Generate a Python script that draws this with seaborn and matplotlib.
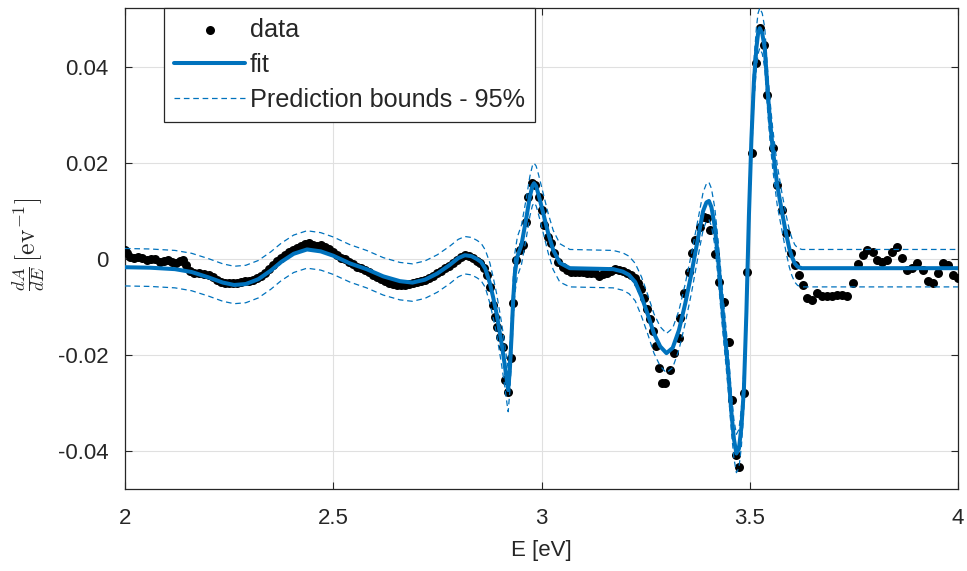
import numpy as np
import seaborn as sns
import matplotlib
matplotlib.use("Agg")
import matplotlib.pyplot as plt

# ------------------------------- DONNEES -------------------------------
E_data = [2.000, 2.005, 2.012, 2.022, 2.031, 2.041, 2.053, 2.062, 2.072, 2.084,
          2.094, 2.103, 2.113, 2.122, 2.132, 2.139, 2.146, 2.156, 2.166, 2.178,
          2.190, 2.202, 2.211, 2.221, 2.230, 2.240, 2.250, 2.259, 2.269, 2.279,
          2.288, 2.298, 2.307, 2.317, 2.327, 2.336, 2.346, 2.355, 2.365, 2.375,
          2.384, 2.394, 2.403, 2.413, 2.423, 2.432, 2.442, 2.451, 2.461, 2.471,
          2.480, 2.490, 2.499, 2.509, 2.519, 2.528, 2.538, 2.547, 2.557, 2.567,
          2.576, 2.586, 2.595, 2.605, 2.615, 2.624, 2.634, 2.643, 2.653, 2.663,
          2.672, 2.682, 2.691, 2.701, 2.711, 2.720, 2.730, 2.739, 2.749, 2.759,
          2.768, 2.778, 2.788, 2.797, 2.807, 2.816, 2.826, 2.836, 2.845, 2.852,
          2.861, 2.869, 2.876, 2.884, 2.888, 2.893, 2.900, 2.908, 2.912, 2.920,
          2.927, 2.932, 2.939, 2.948, 2.956, 2.963, 2.968, 2.977, 2.985, 2.994,
          3.001, 3.006, 3.016, 3.023, 3.030, 3.040, 3.052, 3.061, 3.071, 3.080,
          3.090, 3.100, 3.109, 3.119, 3.128, 3.138, 3.148, 3.157, 3.167, 3.176,
          3.186, 3.196, 3.205, 3.215, 3.225, 3.232, 3.239, 3.246, 3.253, 3.261,
          3.268, 3.275, 3.283, 3.289, 3.297, 3.309, 3.317, 3.329, 3.333, 3.341,
          3.353, 3.361, 3.369, 3.381, 3.389, 3.397, 3.405, 3.417, 3.425, 3.437,
          3.449, 3.457, 3.466, 3.475, 3.486, 3.494, 3.505, 3.515, 3.525, 3.535,
          3.541, 3.555, 3.565, 3.577, 3.587, 3.598, 3.609, 3.619, 3.629, 3.638,
          3.649, 3.661, 3.673, 3.685, 3.697, 3.709, 3.721, 3.734, 3.749, 3.761,
          3.771, 3.782, 3.795, 3.805, 3.817, 3.829, 3.841, 3.853, 3.865, 3.877,
          3.889, 3.902, 3.915, 3.927, 3.939, 3.951, 3.963, 3.977, 3.989, 3.999]

dAdE_data = [0.0019, 0.0012, 0.0004, 0.0002, 0.0005, 0.0003, -0.0002, 0.0001, 0.0001, -0.0006,
             -0.0005, -0.0002, -0.0006, -0.0008, -0.0004, -0.0002, -0.0013, -0.0025, -0.0028, -0.0029,
             -0.0031, -0.0033, -0.0037, -0.0044, -0.0048, -0.0050, -0.0050, -0.0050, -0.0049, -0.0048,
             -0.0046, -0.0045, -0.0044, -0.0039, -0.0035, -0.0028, -0.0020, -0.0013, -0.0004, 0.0003,
             0.0009, 0.0014, 0.0018, 0.0023, 0.0027, 0.0031, 0.0033, 0.0030, 0.0027, 0.0029,
             0.0026, 0.0020, 0.0015, 0.0008, 0.0003, 0.0000, -0.0006, -0.0011, -0.0016, -0.0019,
             -0.0022, -0.0026, -0.0033, -0.0037, -0.0041, -0.0046, -0.0050, -0.0052, -0.0054, -0.0054,
             -0.0053, -0.0052, -0.0049, -0.0048, -0.0046, -0.0043, -0.0040, -0.0035, -0.0029, -0.0024,
             -0.0019, -0.0014, -0.0008, -0.0002, 0.0004, 0.0008, 0.0007, 0.0003, -0.0003, -0.0008,
             -0.0018, -0.0033, -0.0058, -0.0096, -0.0120, -0.0142, -0.0162, -0.0183, -0.0252, -0.0277,
             -0.0206, -0.0092, -0.0002, 0.0019, 0.0029, 0.0077, 0.0129, 0.0158, 0.0154, 0.0129,
             0.0102, 0.0071, 0.0046, 0.0033, 0.0012, -0.0006, -0.0017, -0.0022, -0.0026, -0.0027,
             -0.0027, -0.0027, -0.0028, -0.0028, -0.0030, -0.0035, -0.0032, -0.0030, -0.0024, -0.0021,
             -0.0022, -0.0025, -0.0030, -0.0034, -0.0040, -0.0050, -0.0063, -0.0082, -0.0105, -0.0125,
             -0.0150, -0.0182, -0.0227, -0.0259, -0.0259, -0.0231, -0.0196, -0.0165, -0.0123, -0.0071,
             -0.0027, 0.0012, 0.0040, 0.0067, 0.0088, 0.0085, 0.0060, 0.0010, -0.0048, -0.0089,
             -0.0173, -0.0294, -0.0408, -0.0433, -0.0280, -0.0027, 0.0221, 0.0408, 0.0481, 0.0446,
             0.0342, 0.0231, 0.0154, 0.0102, 0.0054, 0.0012, -0.0013, -0.0033, -0.0054, -0.0081,
             -0.0085, -0.0071, -0.0077, -0.0077, -0.0077, -0.0075, -0.0075, -0.0077, -0.0050, -0.0010,
             0.0008, 0.0019, 0.0015, -0.0002, -0.0006, -0.0002, 0.0015, 0.0025, 0.0002, -0.0023,
             -0.0019, -0.0008, -0.0023, -0.0046, -0.0050, -0.0029, -0.0008, -0.0013, -0.0033, -0.0040]

E_fit = [2.000, 2.060, 2.120, 2.160, 2.200, 2.235, 2.262, 2.290, 2.320, 2.350,
         2.375, 2.405, 2.437, 2.470, 2.500, 2.540, 2.580, 2.620, 2.660, 2.690,
         2.720, 2.750, 2.780, 2.800, 2.816, 2.832, 2.845, 2.855, 2.865, 2.876,
         2.884, 2.892, 2.904, 2.912, 2.917, 2.920, 2.924, 2.928, 2.932, 2.936,
         2.942, 2.952, 2.964, 2.972, 2.978, 2.982, 2.987, 2.992, 3.004, 3.016,
         3.028, 3.044, 3.068, 3.120, 3.172, 3.195, 3.210, 3.225, 3.240, 3.255,
         3.270, 3.285, 3.300, 3.315, 3.330, 3.345, 3.360, 3.375, 3.388, 3.396,
         3.402, 3.408, 3.416, 3.424, 3.432, 3.440, 3.448, 3.456, 3.462, 3.468,
         3.474, 3.480, 3.486, 3.492, 3.498, 3.504, 3.510, 3.516, 3.520, 3.524,
         3.530, 3.536, 3.543, 3.549, 3.555, 3.566, 3.577, 3.587, 3.595, 3.601,
         3.608, 3.615, 3.625, 3.700, 3.800, 3.900, 4.000]

dAdE_fit = [-0.0017, -0.0018, -0.0021, -0.0027, -0.0038, -0.0049, -0.0054, -0.0052, -0.0042, -0.0024,
            -0.0006, 0.0011, 0.0020, 0.0016, 0.0007, -0.0009, -0.0021, -0.0036, -0.0046, -0.0049,
            -0.0043, -0.0030, -0.0012, 0.0002, 0.0008, 0.0006, 0.0000, -0.0006, -0.0020, -0.0050,
            -0.0080, -0.0113, -0.0175, -0.0222, -0.0255, -0.0273, -0.0230, -0.0162, -0.0085, -0.0030,
            0.0005, 0.0030, 0.0088, 0.0130, 0.0152, 0.0158, 0.0152, 0.0137, 0.0096, 0.0054,
            0.0019, -0.0008, -0.0019, -0.0020, -0.0021, -0.0026, -0.0033, -0.0048, -0.0078, -0.0115,
            -0.0155, -0.0182, -0.0196, -0.0185, -0.0148, -0.0093, -0.0030, 0.0040, 0.0100, 0.0118,
            0.0121, 0.0108, 0.0068, 0.0000, -0.0080, -0.0155, -0.0230, -0.0320, -0.0375, -0.0405,
            -0.0395, -0.0350, -0.0270, -0.0110, 0.0090, 0.0250, 0.0370, 0.0440, 0.0470, 0.0481,
            0.0470, 0.0440, 0.0350, 0.0285, 0.0231, 0.0154, 0.0100, 0.0054, 0.0022, 0.0005,
            -0.0009, -0.0016, -0.0019, -0.0019, -0.0019, -0.0019, -0.0019]

bound_up = [0.0022, 0.0021, 0.0018, 0.0012, 0.0001, -0.0010, -0.0015, -0.0013, -0.0003, 0.0015,
            0.0033, 0.0050, 0.0059, 0.0055, 0.0046, 0.0030, 0.0018, 0.0003, -0.0007, -0.0010,
            -0.0004, 0.0009, 0.0027, 0.0041, 0.0047, 0.0045, 0.0039, 0.0033, 0.0019, -0.0008,
            -0.0038, -0.0071, -0.0132, -0.0179, -0.0211, -0.0229, -0.0186, -0.0119, -0.0043, 0.0012,
            0.0046, 0.0071, 0.0129, 0.0172, 0.0194, 0.0200, 0.0194, 0.0179, 0.0137, 0.0095,
            0.0060, 0.0032, 0.0020, 0.0019, 0.0018, 0.0013, 0.0006, -0.0009, -0.0037, -0.0074,
            -0.0114, -0.0141, -0.0155, -0.0144, -0.0107, -0.0052, 0.0011, 0.0079, 0.0139, 0.0157,
            0.0160, 0.0147, 0.0107, 0.0039, -0.0040, -0.0115, -0.0190, -0.0280, -0.0335, -0.0365,
            -0.0355, -0.0310, -0.0230, -0.0070, 0.0132, 0.0292, 0.0412, 0.0482, 0.0512, 0.0523,
            0.0512, 0.0482, 0.0392, 0.0327, 0.0273, 0.0196, 0.0139, 0.0093, 0.0061, 0.0044,
            0.0030, 0.0023, 0.0020, 0.0020, 0.0020, 0.0020, 0.0020]

bound_low = [-0.0056, -0.0057, -0.0060, -0.0066, -0.0077, -0.0088, -0.0093, -0.0091, -0.0081, -0.0063,
             -0.0045, -0.0028, -0.0019, -0.0023, -0.0032, -0.0048, -0.0060, -0.0075, -0.0085, -0.0088,
             -0.0082, -0.0069, -0.0051, -0.0037, -0.0031, -0.0033, -0.0039, -0.0045, -0.0059, -0.0092,
             -0.0122, -0.0155, -0.0219, -0.0267, -0.0300, -0.0318, -0.0275, -0.0206, -0.0128, -0.0072,
             -0.0036, -0.0011, 0.0047, 0.0089, 0.0111, 0.0117, 0.0111, 0.0096, 0.0055, 0.0013,
             -0.0022, -0.0048, -0.0058, -0.0059, -0.0060, -0.0065, -0.0072, -0.0087, -0.0119, -0.0156,
             -0.0196, -0.0223, -0.0237, -0.0226, -0.0189, -0.0134, -0.0071, 0.0001, 0.0061, 0.0079,
             0.0082, 0.0069, 0.0029, -0.0039, -0.0120, -0.0195, -0.0270, -0.0360, -0.0415, -0.0445,
             -0.0435, -0.0390, -0.0310, -0.0150, 0.0048, 0.0208, 0.0328, 0.0398, 0.0428, 0.0439,
             0.0428, 0.0398, 0.0308, 0.0243, 0.0189, 0.0112, 0.0061, 0.0015, -0.0017, -0.0034,
             -0.0048, -0.0055, -0.0058, -0.0058, -0.0058, -0.0058, -0.0058]

x_ticks = [2, 2.5, 3, 3.5, 4]
x_ticklabels = ["2", "2.5", "3", "3.5", "4"]
y_ticks = [-0.04, -0.02, 0, 0.02, 0.04]
y_ticklabels = ["-0.04", "-0.02", "0", "0.02", "0.04"]

bleu = "#0072BD"
gris = "#262626"

# ------------------------------- AFFICHAGE -------------------------------
sns.set_style("ticks")
plt.rcParams['font.family'] = ['Liberation Sans', 'DejaVu Sans']
plt.rcParams['mathtext.fontset'] = 'cm'

fig = plt.figure(figsize=(9.67, 5.71), dpi=100)
ax = fig.add_axes([125/967, 82/571, 833/967, 481/571])

sns.scatterplot(x=E_data, y=dAdE_data, ax=ax, color="black", s=42, linewidth=0,
                label="data", zorder=3)
sns.lineplot(x=E_fit, y=dAdE_fit, ax=ax, color=bleu, linewidth=2.9, sort=False,
             estimator=None, label="fit", zorder=4)
sns.lineplot(x=E_fit, y=bound_up, ax=ax, color=bleu, linewidth=0.9, linestyle=(0, (4.5, 3)),
             sort=False, estimator=None, label="Prediction bounds - 95%", zorder=5)
sns.lineplot(x=E_fit, y=bound_low, ax=ax, color=bleu, linewidth=0.9, linestyle=(0, (4.5, 3)),
             sort=False, estimator=None, zorder=5)

ax.set_xlim(2, 4)
ax.set_ylim(-0.0479, 0.0523)
ax.set_xticks(x_ticks)
ax.set_xticklabels(x_ticklabels)
ax.set_yticks(y_ticks)
ax.set_yticklabels(y_ticklabels)

ax.grid(True, color="#e0e0e0", linewidth=0.8)
ax.set_axisbelow(True)
ax.tick_params(direction="in", length=5, width=0.8, top=True, right=True,
               labelsize=16, colors=gris, pad=12)
ax.tick_params(axis="x", pad=14)
for sp in ax.spines.values():
    sp.set_color(gris)
    sp.set_linewidth(0.9)

ax.set_xlabel("E [eV]", fontsize=16, color=gris)
ax.xaxis.set_label_coords(0.5, -0.105)
ax.set_ylabel(r"$\frac{dA}{dE}\,[\mathrm{ev}^{-1}]$", fontsize=18.5, color=gris)
ax.yaxis.set_label_coords(-0.093, 0.51)

handles, labels = ax.get_legend_handles_labels()
leg = ax.legend(handles, labels, loc="upper left", bbox_to_anchor=(39/833, 1.0),
                borderaxespad=0, frameon=True, fancybox=False, framealpha=1,
                edgecolor=gris, fontsize=18.2, handlelength=2.8, handletextpad=0.2,
                labelspacing=0.43, borderpad=0.4, scatterpoints=1)
leg.get_frame().set_linewidth(0.9)

fig.savefig("out.png", dpi=100)
